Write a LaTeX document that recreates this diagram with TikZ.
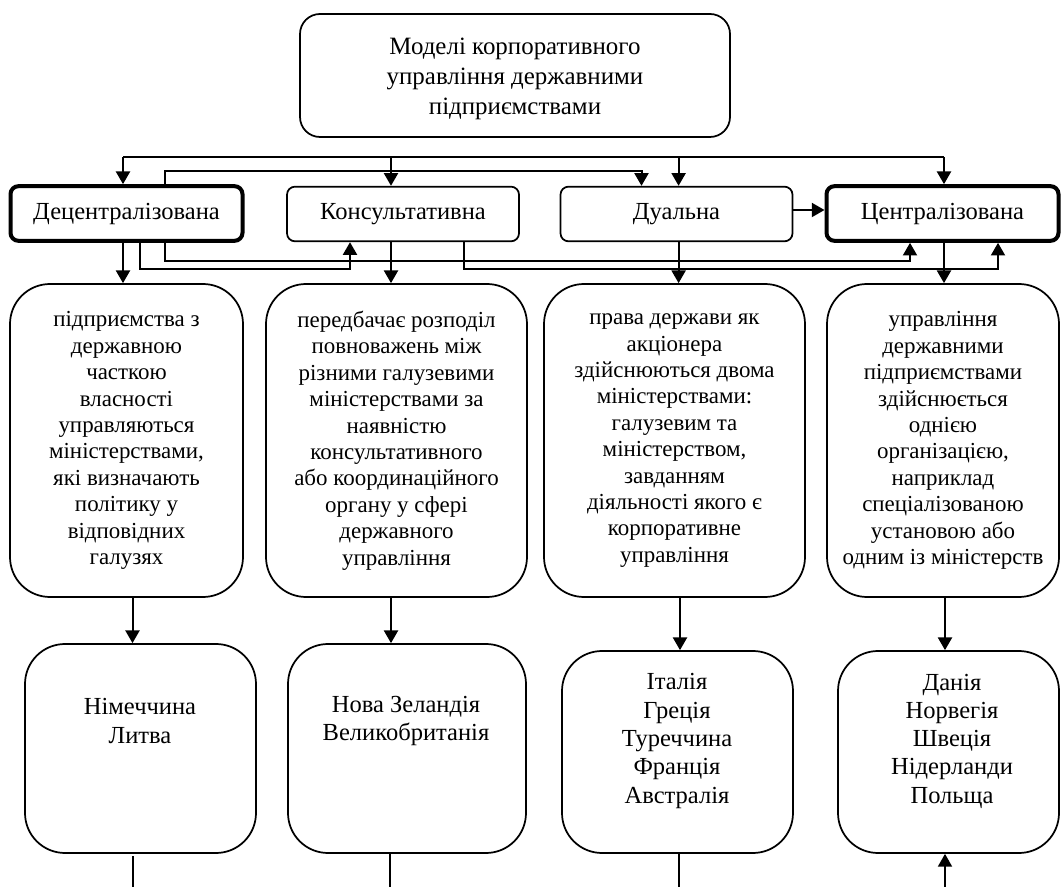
\documentclass[tikz,border=0pt]{standalone}
\usepackage{fontspec}
\setmainfont{Liberation Serif}
\usetikzlibrary{arrows.meta}
\begin{document}
\begin{tikzpicture}[x=0.75pt, y=-0.75pt, >={Triangle[length=9.5pt,width=10.5pt]},
    every node/.style={align=center, inner sep=0pt, font=\fontsize{17.2}{19.8}\selectfont},
    modelbox/.style={draw, line width=1.3pt, rounded corners=6pt, minimum width=174pt, minimum height=41pt,
                     font=\fontsize{18.4}{21.2}\selectfont},
    keybox/.style={modelbox, line width=3pt},
    descbox/.style={draw, line width=1.3pt, rounded corners=30pt, minimum height=234.75pt},
    landbox/.style={draw, line width=1.3pt, rounded corners=30pt},
    landtext/.style={font=\fontsize{18.4}{21.2}\selectfont},
    link/.style={line width=1.5pt},
    tail/.style={line width=1pt}]
\useasboundingbox (0,0) rectangle (1061,887);

% 1. верхній блок і моделі
\node[draw, line width=1.3pt, rounded corners=15pt, minimum width=322.5pt, minimum height=92.25pt] (top) at (515,75.5) {};
\node[font=\fontsize{18.7}{22.6}\selectfont] (toptxt) at (515,79)
      {Моделі корпоративного\\управління державними\\підприємствами};
\node[keybox] (dec) at (126.5,213.5) {Децентралізована};
\node[modelbox] (kon) at (403,214) {Консультативна};
\node[modelbox] (dua) at (676.5,214) {Дуальна};
\node[keybox] (cen) at (942.5,213.5) {Централізована};

% 2. описи моделей
\node[descbox, minimum width=174.75pt] (desc1) at (126.5,440.5)
  {підприємства з\\державною\\часткою\\власності\\управляються\\міністерствами,\\які визначають\\політику у\\відповідних\\галузях};
\node[descbox, minimum width=195.75pt] (desc2) at (396.5,440.5)
  {передбачає розподіл\\повноважень між\\різними галузевими\\міністерствами за\\наявністю\\консультативного\\або координаційного\\органу у сфері\\державного\\управління};
\node[descbox, minimum width=195.75pt] (desc3) at (674.5,440.5)
  {права держави як\\акціонера\\здійснюються двома\\міністерствами:\\галузевим та\\міністерством,\\завданням\\діяльності якого є\\корпоративне\\управління};
\node[descbox, minimum width=174pt] (desc4) at (943,440.5)
  {управління\\державними\\підприємствами\\здійснюється\\однією\\організацією,\\наприклад\\спеціалізованою\\установою або\\одним із міністерств};

% 3. країни
\node[landbox, minimum width=173.25pt, minimum height=156.75pt] (land1) at (140.5,748.5) {};
\node[landbox, minimum width=178.5pt, minimum height=156.75pt] (land2) at (407,748.5) {};
\node[landbox, minimum width=173.25pt, minimum height=151.5pt] (land3) at (677.5,752) {};
\node[landbox, minimum width=165.75pt, minimum height=151.5pt] (land4) at (948.5,752) {};
\node[landtext] (landtxt1) at (140,721) {Німеччина\\Литва};
\node[landtext] (landtxt2) at (406,721) {Нова Зеландія\\Великобританія};
\node[landtext] (landtxt3) at (677,741) {Італія\\Греція\\Туреччина\\Франція\\Австралія};
\node[landtext] (landtxt4) at (952,741) {Данія\\Норвегія\\Швеція\\Нідерланди\\Польща};

% 4. шина та зв'язки між моделями
\coordinate (busL) at (123,157);
\coordinate (busR) at (944,157);
\draw[link] (busL) -- (busR);
\draw[link,->] (busL) -- (dec.north -| busL);
\draw[link,->] (391,157) -- (kon.north -| 391,0);
\draw[link,->] (678.6,157) -- (dua.north -| 678.6,0);
\draw[link,->] (busR) -- (cen.north -| busR);
\draw[link,->] (dec.north -| 164.6,0) -- (164.6,171.4) -| (dua.north -| 641.5,0);
\draw[link,->] (dec.south -| 140,0) -- (140,269.4) -| (kon.south -| 350,0);
\draw[link,->] (dec.south -| 164.6,0) -- (164.6,261) -| (cen.south -| 910,0);
\draw[link,->] (kon.south -| 463.5,0) -- (463.5,269.4) -| (cen.south -| 998,0);
\draw[link,->] (dua.east |- 0,210) -- (cen.west |- 0,210);

% 5. модель -> опис -> країни
\draw[link,->] (dec.south -| 123,0) -- (desc1.north -| 123,0);
\draw[link,->] (kon.south -| 391,0) -- (desc2.north -| 391,0);
\draw[link,->] (dua.south -| 678.6,0) -- (desc3.north -| 678.6,0);
\draw[link,->] (cen.south -| 944,0) -- (desc4.north -| 944,0);
\draw[link,->] (desc1.south -| 132.5,0) -- (land1.north -| 132.5,0);
\draw[link,->] (desc2.south -| 391,0) -- (land2.north -| 391,0);
\draw[link,->] (desc3.south -| 680,0) -- (land3.north -| 680,0);
\draw[link,->] (desc4.south -| 945,0) -- (land4.north -| 945,0);

% 6. лінії донизу
\draw[tail] (133,856) -- (133,887);
\draw[tail] (land2.south -| 390,0) -- (390,887);
\draw[tail] (land3.south -| 679,0) -- (679,887);
\draw[tail,->] (945,887) -- (land4.south -| 945,0);
\end{tikzpicture}
\end{document}
